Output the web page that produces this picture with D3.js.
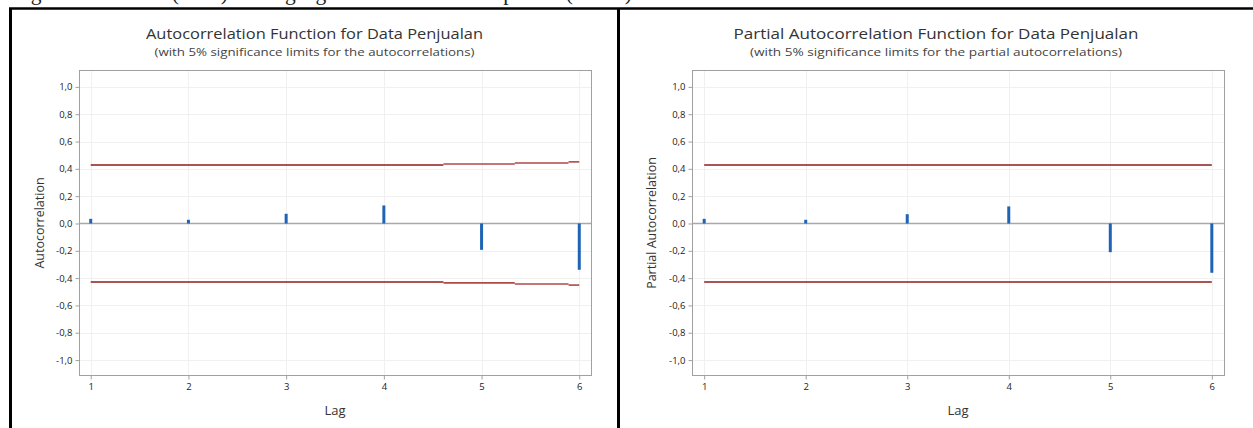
<!DOCTYPE html>
<html>
<head>
<meta charset="utf-8">
<script src="https://cdn.jsdelivr.net/npm/d3@7"></script>
<style>
  html, body { margin: 0; padding: 0; background: #fff; }
  svg { display: block; }
  text { font-family: "Open Sans", "Noto Sans", sans-serif; }
</style>
</head>
<body>
<svg id="chart" width="1253" height="428"></svg>
<script>
// ---------- data ----------
const lags = [1, 2, 3, 4, 5, 6];
const acfValues = [0.034, 0.027, 0.071, 0.132, -0.193, -0.339];
const pacfValues = [0.034, 0.027, 0.068, 0.125, -0.210, -0.361];
// significance limit steps: [startLag, endLag, limit]
const acfLimitStart = [1, 4.61, 5.34, 5.89];
const acfLimitEnd   = [4.61, 5.34, 5.89, 6];
const acfLimitValue = [0.428, 0.435, 0.443, 0.451];
const pacfLimitStart = [1];
const pacfLimitEnd   = [6];
const pacfLimitValue = [0.428];
const yTicks = [1.0, 0.8, 0.6, 0.4, 0.2, 0.0, -0.2, -0.4, -0.6, -0.8, -1.0];
const xTickLabels = ["1", "2", "3", "4", "5", "6"];
const headerText = "fungsi autokorelasi (ACF) dan lag signifikan autokorelasi parsial (PACF)";

const svg = d3.select("#chart");

// cropped document text at the very top (cut off in the source image too)
svg.append("text")
  .attr("x", 2).attr("y", 0)
  .style("font-family", "'Liberation Serif', serif")
  .style("font-size", "21px")
  .attr("textLength", 630).attr("lengthAdjust", "spacingAndGlyphs")
  .attr("fill", "#222")
  .text(headerText);

// document table borders
svg.append("line").attr("x1", 9).attr("x2", 1253).attr("y1", 8.5).attr("y2", 8.5)
  .attr("stroke", "#000").attr("stroke-width", 2.5);
svg.append("line").attr("x1", 10.5).attr("x2", 10.5).attr("y1", 8).attr("y2", 428)
  .attr("stroke", "#000").attr("stroke-width", 3);
svg.append("line").attr("x1", 618.5).attr("x2", 618.5).attr("y1", 8).attr("y2", 428)
  .attr("stroke", "#000").attr("stroke-width", 3);

function drawPanel(opt) {
  const g = svg.append("g");
  const x = d3.scaleLinear().domain([0.88, 6.12]).range([opt.left, opt.right]);
  const y = d3.scaleLinear().domain([-1.113, 1.12]).range([375.5, 70.5]);

  // gridlines
  g.append("g").selectAll("line").data(yTicks).join("line")
    .attr("x1", opt.left).attr("x2", opt.right)
    .attr("y1", d => Math.round(y(d)) + 0.5).attr("y2", d => Math.round(y(d)) + 0.5)
    .attr("stroke", "#f0f0f0").attr("stroke-width", 1);
  g.append("g").selectAll("line").data(lags).join("line")
    .attr("x1", d => Math.round(x(d)) + 0.5).attr("x2", d => Math.round(x(d)) + 0.5)
    .attr("y1", 70.5).attr("y2", 375.5)
    .attr("stroke", "#f0f0f0").attr("stroke-width", 1);

  // zero reference line
  g.append("line").attr("x1", opt.left).attr("x2", opt.right)
    .attr("y1", y(0)).attr("y2", y(0))
    .attr("stroke", "#a8a8a8").attr("stroke-width", 1.5);

  // significance limits
  const lim = opt.limStart.map((s, i) => ({ s, e: opt.limEnd[i], v: opt.limVal[i] }));
  [1, -1].forEach(sign => {
    g.append("g").selectAll("line").data(lim).join("line")
      .attr("x1", d => x(d.s)).attr("x2", d => x(d.e))
      .attr("y1", d => y(sign * d.v)).attr("y2", d => y(sign * d.v))
      .attr("stroke", (d, i) => i === 0 ? "#8e1b1b" : "#b04848").attr("stroke-width", 1.6);
  });

  // bars
  g.append("g").selectAll("line").data(opt.values).join("line")
    .attr("x1", (d, i) => x(lags[i])).attr("x2", (d, i) => x(lags[i]))
    .attr("y1", y(0)).attr("y2", d => y(d))
    .attr("stroke", "#1f64b4").attr("stroke-width", 3);

  // frame
  g.append("rect").attr("x", opt.left + 0.5).attr("y", 70.5)
    .attr("width", opt.right - opt.left).attr("height", 305)
    .attr("fill", "none").attr("stroke", "#a0a0a0").attr("stroke-width", 1);

  // y axis
  const yAxis = d3.axisLeft(y).tickValues(yTicks).tickSize(4).tickPadding(3)
    .tickFormat(d => d3.format(".1f")(d).replace(".", ",").replace("−", "-"));
  const ya = g.append("g").attr("transform", `translate(${opt.left + 0.5},0)`).call(yAxis);
  ya.select(".domain").remove();
  ya.selectAll(".tick line").attr("stroke", "#a0a0a0");
  ya.selectAll(".tick text").attr("fill", "#222").style("font-size", "9.5px")
    .style("font-family", "'Open Sans', sans-serif");

  // x axis
  const xAxis = d3.axisBottom(x).tickValues(lags).tickSize(4).tickPadding(4)
    .tickFormat((d, i) => xTickLabels[i]);
  const xa = g.append("g").attr("transform", "translate(0,375.5)").call(xAxis);
  xa.select(".domain").remove();
  xa.selectAll(".tick line").attr("stroke", "#a0a0a0");
  xa.selectAll(".tick text").attr("fill", "#222").style("font-size", "9.5px")
    .style("font-family", "'Open Sans', sans-serif");

  // titles
  g.append("text").attr("x", opt.cx).attr("y", 38.5).attr("text-anchor", "middle")
    .attr("fill", "#333").style("font-size", "15px")
    .attr("textLength", opt.titleW).attr("lengthAdjust", "spacingAndGlyphs")
    .text(opt.title);
  g.append("text").attr("x", opt.cx).attr("y", 55.5).attr("text-anchor", "middle")
    .attr("fill", "#444").style("font-size", "11.5px")
    .attr("textLength", opt.subW).attr("lengthAdjust", "spacingAndGlyphs")
    .text(opt.subtitle);

  // axis labels
  g.append("text").attr("transform", `translate(${opt.ylabX},223) rotate(-90)`)
    .attr("text-anchor", "middle").attr("fill", "#333").style("font-size", "12.5px")
    .text(opt.ylabel);
  g.append("text").attr("x", (opt.left + opt.right) / 2).attr("y", 415)
    .attr("text-anchor", "middle").attr("fill", "#333").style("font-size", "13px")
    .text("Lag");
}

drawPanel({
  left: 79, right: 591, cx: 314.5, titleW: 337, subW: 320, ylabX: 44,
  title: "Autocorrelation Function for Data Penjualan",
  subtitle: "(with 5% significance limits for the autocorrelations)",
  ylabel: "Autocorrelation",
  values: acfValues, limStart: acfLimitStart, limEnd: acfLimitEnd, limVal: acfLimitValue
});
drawPanel({
  left: 692, right: 1224, cx: 936, titleW: 405, subW: 372, ylabX: 656,
  title: "Partial Autocorrelation Function for Data Penjualan",
  subtitle: "(with 5% significance limits for the partial autocorrelations)",
  ylabel: "Partial Autocorrelation",
  values: pacfValues, limStart: pacfLimitStart, limEnd: pacfLimitEnd, limVal: pacfLimitValue
});
</script>
</body>
</html>
